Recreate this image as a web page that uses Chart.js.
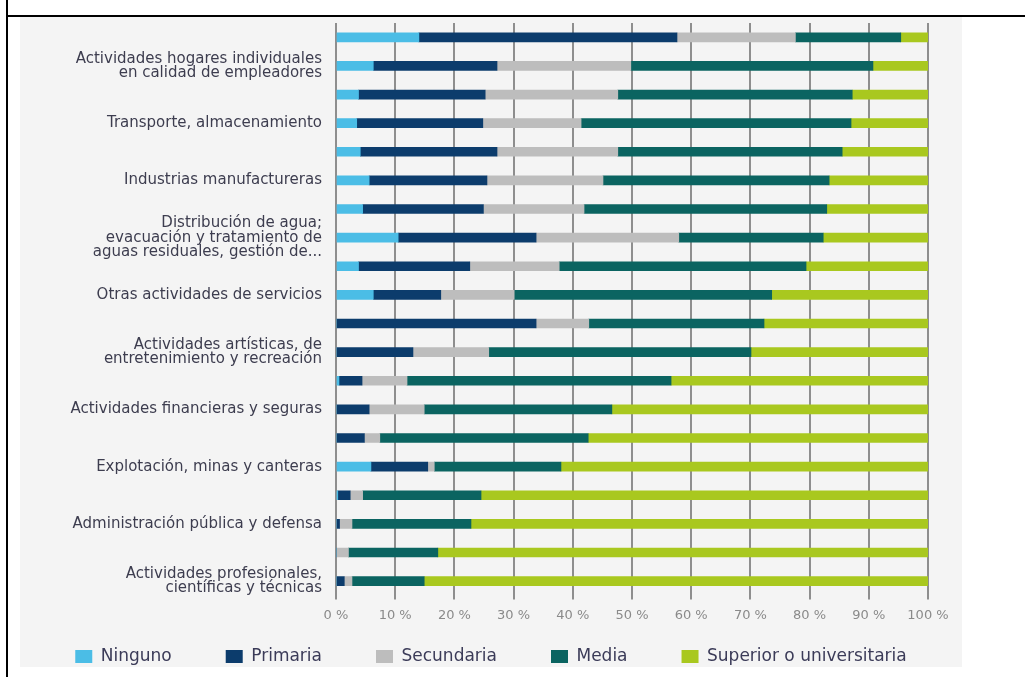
<!DOCTYPE html>
<html>
<head>
<meta charset="utf-8">
<script src="https://cdn.jsdelivr.net/npm/chart.js@4.4.1/dist/chart.umd.min.js"></script>
<style>
  html, body { margin: 0; padding: 0; background: #fff; }
  body { width: 1025px; height: 677px; position: relative; overflow: hidden; }
  .frame-top { position: absolute; left: 6px; top: 15px; width: 1019px; height: 2px; background: #000; }
  .frame-left { position: absolute; left: 6px; top: 0; width: 2px; height: 677px; background: #000; }
  .panel { position: absolute; left: 20px; top: 17px; width: 942px; height: 650px; background: #f4f4f4; }
</style>
</head>
<body>
<div class="frame-top"></div>
<div class="frame-left"></div>
<div class="panel"><canvas id="chart" width="942" height="650"></canvas></div>
<script>
// categories, top to bottom (only every other one is labelled in the source)
const categories = [
  '',
  ['Actividades hogares individuales', 'en calidad de empleadores'],
  '',
  'Transporte, almacenamiento',
  '',
  'Industrias manufactureras',
  '',
  ['Distribución de agua;', 'evacuación y tratamiento de', 'aguas residuales, gestión de...'],
  '',
  'Otras actividades de servicios',
  '',
  ['Actividades artísticas, de', 'entretenimiento y recreación'],
  '',
  'Actividades financieras y seguras',
  '',
  'Explotación, minas y canteras',
  '',
  'Administración pública y defensa',
  '',
  ['Actividades profesionales,', 'científicas y técnicas']
];

const ninguno    = [14.0, 6.3, 3.8, 3.5, 4.1, 5.6, 4.5, 10.5, 3.8, 6.3, 0, 0, 0.5, 0, 0, 5.9, 0.3, 0, 0, 0];
const primaria   = [43.6, 20.9, 21.4, 21.3, 23.1, 19.9, 20.4, 23.3, 18.8, 11.4, 33.8, 13.0, 3.9, 5.6, 4.8, 9.6, 2.1, 0.6, 0, 1.4];
const secundaria = [20.0, 22.6, 22.4, 16.6, 20.4, 19.6, 17.0, 24.1, 15.1, 12.4, 8.9, 12.8, 7.6, 9.3, 2.6, 1.1, 2.1, 2.1, 2.1, 1.3];
const media      = [17.8, 40.9, 39.6, 45.6, 37.9, 38.2, 41.0, 24.4, 41.7, 43.5, 29.6, 44.3, 44.6, 31.7, 35.2, 21.4, 20.0, 20.1, 15.1, 12.2];
const superior   = [4.6, 9.3, 12.8, 13.0, 14.5, 16.7, 17.1, 17.7, 20.6, 26.4, 27.7, 29.9, 43.4, 53.4, 57.4, 62.0, 75.5, 77.2, 82.8, 85.1];

const seriesNames = ['Ninguno', 'Primaria', 'Secundaria', 'Media', 'Superior o universitaria'];
const seriesColors = ['#4bbde6', '#0c3c6c', '#bdbdbd', '#0b6461', '#a9c81f'];
const xTicks = [0, 10, 20, 30, 40, 50, 60, 70, 80, 90, 100];

const font = 'DejaVu Sans';
const legendPad = 54;

// legend sits closer to the axis labels than chart.js would put it,
// and may use the full canvas width
const legendPlace = {
  id: 'legendPlace',
  beforeInit(chart) {
    const fit = chart.legend.fit;
    chart.legend.fit = function () {
      this.maxWidth = chart.width;
      fit.call(this);
      this.height = 36;
    };
  },
  afterLayout(chart) {
    const lg = chart.legend;
    lg.left = 0;
    lg.right = chart.width;
    lg.width = chart.width;
    lg.top = 631 - legendPad;
    lg.bottom = chart.height;
    lg.height = lg.bottom - lg.top;
  }
};

const values = [ninguno, primaria, secundaria, media, superior];

new Chart(document.getElementById('chart'), {
  type: 'bar',
  data: {
    labels: categories,
    datasets: seriesNames.map((name, i) => ({
      label: name,
      data: values[i],
      backgroundColor: seriesColors[i],
      borderWidth: 0,
      barThickness: 9
    }))
  },
  options: {
    indexAxis: 'y',
    responsive: false,
    animation: false,
    layout: { padding: { top: 6, right: 34, bottom: 0, left: 0 } },
    plugins: {
      tooltip: { enabled: false },
      legend: {
        position: 'bottom',
        labels: {
          boxWidth: 17,
          boxHeight: 13,
          padding: legendPad,
          color: '#3b3b58',
          font: { family: font, size: 17 }
        }
      }
    },
    scales: {
      x: {
        stacked: true,
        min: 0,
        max: 100,
        afterBuildTicks: (scale) => { scale.ticks = xTicks.map(v => ({ value: v })); },
        border: { display: false },
        grid: { color: '#8e8e8e', lineWidth: 2, tickLength: 4 },
        ticks: {
          color: '#8a8a8a',
          padding: 8,
          maxRotation: 0,
          font: { family: font, size: 13 },
          callback: (v) => v + ' %'
        }
      },
      y: {
        stacked: true,
        afterFit: (scale) => {
          scale.width = 316;
          scale.paddingTop = 0;
          scale.paddingBottom = 0;
        },
        border: { display: false },
        grid: { display: false, drawTicks: false },
        ticks: {
          autoSkip: false,
          padding: 14,
          color: '#3d3d4f',
          font: { family: font, size: 15, lineHeight: 0.95 }
        }
      }
    }
  },
  plugins: [legendPlace]
});
</script>
</body>
</html>
